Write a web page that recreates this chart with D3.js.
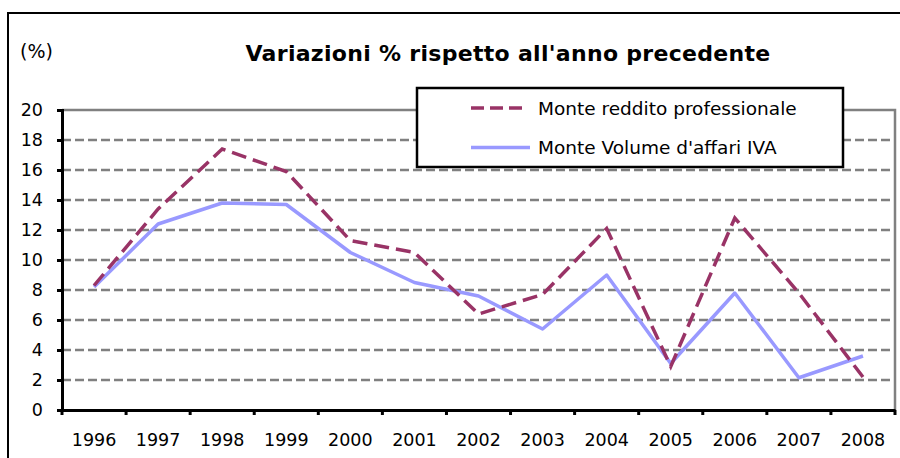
<!DOCTYPE html>
<html>
<head>
<meta charset="utf-8">
<script src="https://cdn.jsdelivr.net/npm/d3@7"></script>
<style>
  body { margin: 0; background: #fff; }
  text { font-family: "DejaVu Sans", Verdana, sans-serif; }
</style>
</head>
<body>
<script>
var years = ["1996", "1997", "1998", "1999", "2000", "2001", "2002",
             "2003", "2004", "2005", "2006", "2007", "2008"];
var reddito = [8.3, 13.4, 17.4, 15.9, 11.3, 10.5, 6.4, 7.7, 12.1, 2.9, 12.8, 7.8, 2.2];
var volume  = [8.2, 12.4, 13.8, 13.7, 10.5, 8.5, 7.6, 5.4, 9.0, 3.1, 7.8, 2.15, 3.6];
var yTicks = [0, 2, 4, 6, 8, 10, 12, 14, 16, 18, 20];
var seriesNames = ["Monte reddito professionale", "Monte Volume d'affari IVA"];

function main() {
    var width = 900, height = 458;
    var left = 62, right = 895, top = 110, bottom = 410;

    var svg = d3.select("body").append("svg")
        .attr("width", width).attr("height", height);

    // outer frame
    svg.append("rect")
        .attr("x", 8).attr("y", 13)
        .attr("width", 900).attr("height", 460)
        .attr("fill", "none").attr("stroke", "#000").attr("stroke-width", 2);

    var x = d3.scaleBand().domain(years).range([left, right]);
    var y = d3.scaleLinear().domain([0, 20]).range([bottom, top]);

    // grid lines
    svg.selectAll("line.grid")
        .data(yTicks.filter(function(d) { return d > 0 && d < 20; }))
        .enter().append("line")
        .attr("class", "grid")
        .attr("x1", left).attr("x2", right)
        .attr("y1", function(d) { return y(d); })
        .attr("y2", function(d) { return y(d); })
        .attr("stroke", "#808080").attr("stroke-width", 2.5)
        .attr("stroke-dasharray", "9,4");

    // plot area top and right border
    svg.append("path")
        .attr("d", "M" + left + "," + y(20) + "H" + right + "V" + bottom)
        .attr("fill", "none").attr("stroke", "#808080").attr("stroke-width", 2.5);

    // y axis
    var yAxis = svg.append("g")
        .attr("transform", "translate(" + left + ",0)")
        .call(d3.axisLeft(y).tickValues(yTicks).tickSize(5).tickPadding(14));
    yAxis.select(".domain").attr("stroke", "#000").attr("stroke-width", 3);
    yAxis.selectAll(".tick line").attr("stroke", "#000").attr("stroke-width", 3);
    yAxis.selectAll(".tick text")
        .attr("font-family", "DejaVu Sans").attr("font-size", "17.5px").attr("fill", "#000");

    // x axis: ticks between categories
    var xAxis = svg.append("g")
        .attr("transform", "translate(0," + bottom + ")")
        .call(d3.axisBottom(x).tickSize(0).tickPadding(24));
    xAxis.select(".domain").attr("stroke", "#000").attr("stroke-width", 3);
    xAxis.selectAll(".tick text")
        .attr("font-family", "DejaVu Sans").attr("font-size", "17.5px").attr("fill", "#000");
    xAxis.selectAll("line.sep")
        .data(years.concat(["end"]))
        .enter().append("line")
        .attr("class", "sep")
        .attr("x1", function(d, i) { return left + i * x.step(); })
        .attr("x2", function(d, i) { return left + i * x.step(); })
        .attr("y1", 0).attr("y2", 5)
        .attr("stroke", "#000").attr("stroke-width", 3);

    var line = d3.line()
        .x(function(d, i) { return x(years[i]) + x.bandwidth() / 2; })
        .y(function(d) { return y(d); });

    svg.append("path")
        .datum(volume)
        .attr("d", line)
        .attr("fill", "none").attr("stroke", "#9999FF").attr("stroke-width", 3.5)
        .attr("stroke-linejoin", "round");

    svg.append("path")
        .datum(reddito)
        .attr("d", line)
        .attr("fill", "none").attr("stroke", "#993366").attr("stroke-width", 3.5)
        .attr("stroke-dasharray", "15,7");

    // title and unit
    svg.append("text")
        .attr("x", 508).attr("y", 61)
        .attr("text-anchor", "middle")
        .attr("font-size", "22px").attr("font-weight", "bold")
        .attr("letter-spacing", "0.3px")
        .text("Variazioni % rispetto all'anno precedente");
    svg.append("text")
        .attr("x", 20).attr("y", 58)
        .attr("font-size", "19px")
        .text("(%)");

    // legend
    var lg = svg.append("g");
    lg.append("rect")
        .attr("x", 417).attr("y", 88).attr("width", 426).attr("height", 79)
        .attr("fill", "#fff").attr("stroke", "#000").attr("stroke-width", 2.5);
    var items = lg.selectAll("g.item")
        .data(seriesNames)
        .enter().append("g")
        .attr("transform", function(d, i) { return "translate(0," + (108 + i * 39.5) + ")"; });
    items.append("line")
        .attr("x1", 471).attr("x2", function(d, i) { return i == 0 ? 523 : 530; })
        .attr("y1", 0).attr("y2", 0)
        .attr("stroke", function(d, i) { return i == 0 ? "#993366" : "#9999FF"; })
        .attr("stroke-width", 3.5)
        .attr("stroke-dasharray", function(d, i) { return i == 0 ? "13,6" : null; });
    items.append("text")
        .attr("x", 538).attr("y", 6.5)
        .attr("font-size", "18.5px")
        .text(function(d) { return d; });
}

window.onload = main;
</script>
</body>
</html>
